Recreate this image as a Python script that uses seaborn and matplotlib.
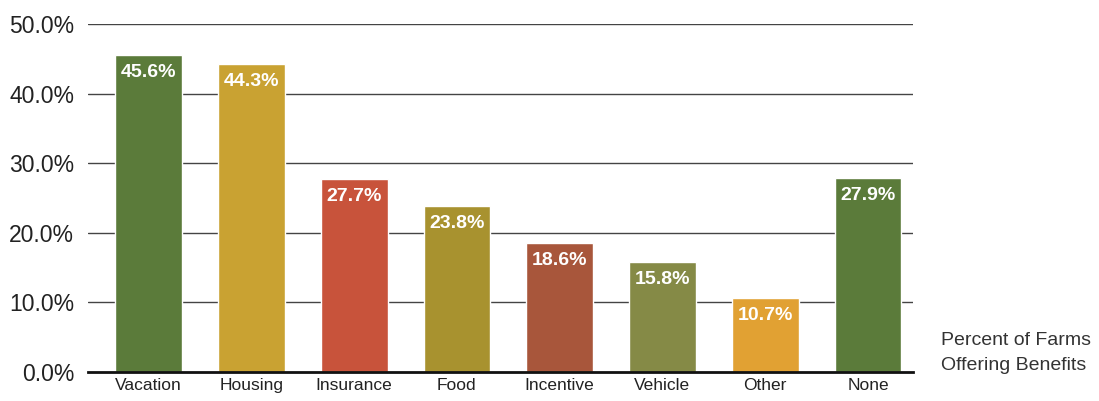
import matplotlib
matplotlib.use("Agg")
import matplotlib.pyplot as plt
import numpy as np
import pandas as pd
import seaborn as sns

categories = ["Vacation", "Housing", "Insurance", "Food", "Incentive", "Vehicle", "Other", "None"]
values = [45.6, 44.3, 27.7, 23.8, 18.6, 15.8, 10.7, 27.9]
colors = ["#5b7b3a", "#c9a232", "#c8533b", "#a8922f", "#a8563b", "#858a46", "#e1a133", "#5b7b3a"]
y_ticks = [0, 10, 20, 30, 40, 50]

df = pd.DataFrame({"category": categories, "value": values})

sns.set_style("white")
plt.rcParams["font.family"] = ["Liberation Sans", "DejaVu Sans"]

fig = plt.figure(figsize=(10.99, 4.01), dpi=100)
ax = fig.add_axes([0.080, 0.0723, 0.751, 0.868])

sns.barplot(data=df, x="category", y="value", hue="category", palette=colors,
            legend=False, width=0.65, saturation=1, ax=ax, zorder=3)

ax.set_ylim(0, 50)
ax.set_xlim(-0.59, 7.44)
ax.set_yticks(y_ticks)
ax.set_yticklabels([f"{t:.1f}%" for t in y_ticks], fontsize=16.5, color="#222222")
ax.tick_params(axis="y", length=0, pad=10)
ax.tick_params(axis="x", length=0, pad=4, labelsize=12.5, colors="#222222")
ax.set_xlabel("")
ax.set_ylabel("")
for t in y_ticks[1:]:
    ax.axhline(t, color="#444444", lw=1.0, zorder=1)
for s in ["top", "right", "left"]:
    ax.spines[s].set_visible(False)
ax.spines["bottom"].set_color("#111111")
ax.spines["bottom"].set_linewidth(2)
ax.spines["bottom"].set_zorder(4)

# value labels inside the top of each bar
for i, v in enumerate(values):
    ax.text(i, v - 1.3, f"{v:.1f}%", ha="center", va="top", color="white",
            fontsize=14, fontweight="bold", zorder=5)

fig.text(0.856, 0.12, "Percent of Farms\nOffering Benefits", ha="left", va="center",
         fontsize=14, color="#333333", linespacing=1.6)

fig.savefig("out.png", dpi=100)
